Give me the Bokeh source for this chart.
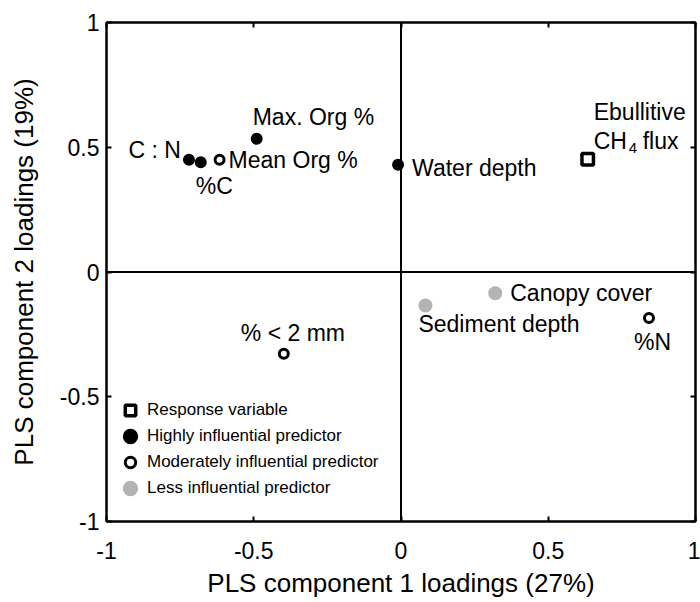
from bokeh.plotting import figure
from bokeh.models import (Span, LinearAxis, FixedTicker, CustomJSTickFormatter, Legend,
                          LegendItem, ColumnDataSource, CustomLabelingPolicy)
from bokeh.core.properties import value
from bokeh.embed import file_html
from bokeh.resources import INLINE

# ---------------- data ----------------
resp_names = ["Ebullitive CH4 flux"]
resp_x = [0.634]
resp_y = [0.452]

high_names = ["C : N", "%C", "Max. Org %", "Water depth"]
high_x = [-0.72, -0.68, -0.49, -0.01]
high_y = [0.45, 0.44, 0.534, 0.43]

mod_names = ["Mean Org %", "% < 2 mm", "%N"]
mod_x = [-0.616, -0.398, 0.842]
mod_y = [0.45, -0.328, -0.184]

less_names = ["Canopy cover", "Sediment depth"]
less_x = [0.32, 0.083]
less_y = [-0.085, -0.134]

ticks = [-1, -0.5, 0, 0.5, 1]
x_title = "PLS component 1 loadings (27%)"
y_title = "PLS component 2 loadings (19%)"
legend_labels = ["Response variable", "Highly influential predictor",
                 "Moderately influential predictor", "Less influential predictor"]

# ---------------- layout / style ----------------
FONT = "Liberation Sans"
GREY = "#b3b3b3"
# label placement (screen-pixel offsets from each point, align)
label_style = {
    "C : N": (-8, -10, "right"),
    "%C": (-5, 24, "left"),
    "Max. Org %": (-4, -22, "left"),
    "Water depth": (14, 3, "left"),
    "Mean Org %": (9, 0, "left"),
    "% < 2 mm": (-43, -21, "left"),
    "%N": (-15, 24, "left"),
    "Canopy cover": (15, 0, "left"),
    "Sediment depth": (-7, 19, "left"),
}

p = figure(width=700, height=602, x_range=(-1, 1), y_range=(-1, 1),
           output_backend="svg", toolbar_location=None,
           min_border_left=106, min_border_right=5, min_border_top=22, min_border_bottom=81)
p.grid.visible = False
p.background_fill_color = "white"
p.border_fill_color = "white"
p.outline_line_color = "black"
p.outline_line_width = 2

fmt = CustomJSTickFormatter(code="return tick.toString();")
for ax in (p.xaxis[0], p.yaxis[0]):
    ax.ticker = FixedTicker(ticks=ticks)
    ax.formatter = fmt
    ax.major_tick_in = 5
    ax.major_tick_out = 0
    ax.minor_tick_line_color = None
    ax.axis_line_width = 2
    ax.major_tick_line_width = 2
    ax.major_label_text_font = FONT
    ax.major_label_text_font_size = "23px"
    ax.major_label_text_color = "black"
    ax.axis_label_text_font = FONT
    ax.axis_label_text_font_size = "26px"
    ax.axis_label_text_font_style = "normal"
    ax.axis_label_text_color = "black"

p.xaxis[0].axis_label = x_title
p.yaxis[0].axis_label = y_title
p.xaxis[0].major_label_standoff = 20
p.xaxis[0].axis_label_standoff = 6
p.yaxis[0].major_label_standoff = 7
p.yaxis[0].axis_label_standoff = 18

no_labels = CustomLabelingPolicy(code="""
const all = [...indices];
for (const i of all) indices.unset(i);
return indices;
""")
for loc in ("above", "right"):
    ax = LinearAxis(ticker=FixedTicker(ticks=ticks), major_label_policy=no_labels,
                    major_label_text_font_size="1px",
                    major_tick_in=5, major_tick_out=0, minor_tick_line_color=None,
                    axis_line_width=2, major_tick_line_width=2, major_label_standoff=0)
    p.add_layout(ax, loc)

p.add_layout(Span(location=0, dimension="height", line_color="black", line_width=2))
p.add_layout(Span(location=0, dimension="width", line_color="black", line_width=2))

# marker outline widths chosen so that both plot and legend glyphs match the reference sizes
r_resp = p.scatter(resp_x, resp_y, marker="square", size=11.5, fill_color="white",
                   line_color="black", line_width=3.5)
r_high = p.scatter(high_x, high_y, marker="circle", size=7, fill_color="black",
                   line_color="black", line_width=5)
r_mod = p.scatter(mod_x, mod_y, marker="circle", size=9, fill_color="white",
                  line_color="black", line_width=3)
r_less = p.scatter(less_x, less_y, marker="circle", size=9, fill_color=GREY,
                   line_color=GREY, line_width=5)

names = high_names + mod_names + less_names
xs = high_x + mod_x + less_x
ys = high_y + mod_y + less_y
for align in ("left", "right"):
    sel = [i for i, n in enumerate(names) if label_style[n][2] == align]
    src = ColumnDataSource(dict(
        x=[xs[i] for i in sel], y=[ys[i] for i in sel], t=[names[i] for i in sel],
        dx=[label_style[names[i]][0] for i in sel], dy=[label_style[names[i]][1] for i in sel]))
    p.text(x="x", y="y", text="t", x_offset="dx", y_offset="dy", source=src,
           text_font=value(FONT), text_font_size="23px", text_color="black",
           text_align=align, text_baseline="middle")

# response label: "Ebullitive" / "CH" + subscript "4" + " flux"
resp_parts = [("Ebullitive", 6, -47, "23px"), ("CH", 6, -18, "23px"),
              ("4", 41, -11, "15px"), ("flux", 55, -18, "23px")]
for txt, dx, dy, fs in resp_parts:
    p.text(x=resp_x, y=resp_y, text=[txt], x_offset=dx, y_offset=dy,
           text_font=value(FONT), text_font_size=fs, text_color="black",
           text_align="left", text_baseline="middle")

legend = Legend(items=[LegendItem(label=lab, renderers=[r]) for lab, r in
                       zip(legend_labels, [r_resp, r_high, r_mod, r_less])],
                location=(7, 20), orientation="vertical")
legend.glyph_width = 34
legend.glyph_height = 26
legend.label_height = 20
legend.label_standoff = 0
legend.spacing = 0
legend.padding = 0
legend.margin = 0
legend.border_line_color = None
legend.background_fill_alpha = 0
legend.label_text_font = FONT
legend.label_text_font_size = "17px"
legend.label_text_color = "black"
p.add_layout(legend, "center")

open("out.html", "w").write(file_html(p, INLINE))
